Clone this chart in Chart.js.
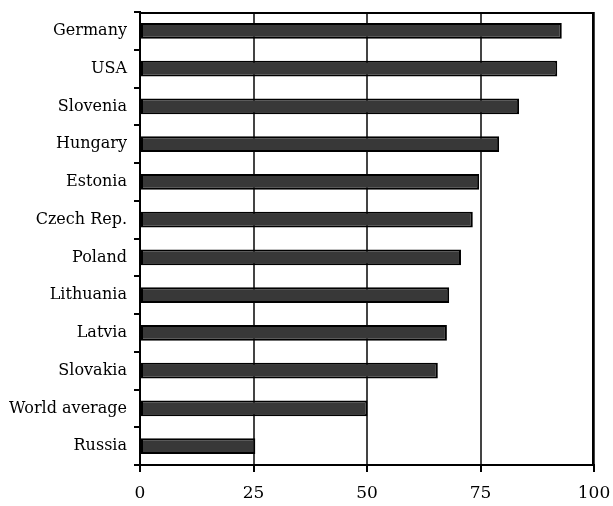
<!DOCTYPE html>
<html>
<head>
<meta charset="utf-8">
<script src="https://cdn.jsdelivr.net/npm/chart.js@4"></script>
<style>
  html, body { margin: 0; padding: 0; background: #fff; }
  #wrap { width: 613px; height: 506px; }
</style>
</head>
<body>
<div id="wrap"><canvas id="myChart"></canvas></div>
<script>
var countries = ['Germany', 'USA', 'Slovenia', 'Hungary', 'Estonia', 'Czech Rep.', 'Poland', 'Lithuania', 'Latvia', 'Slovakia', 'World average', 'Russia']
var values = [92.9, 91.9, 83.5, 79.1, 74.7, 73.3, 70.7, 68.1, 67.6, 65.6, 50.1, 25.4]
var xTicks = [0, 25, 50, 75, 100]

// top and right sides of the plot box
const frame = {
    id: 'plotFrame',
    afterDraw(chart) {
        const x = chart.scales.x
        const y = chart.scales.y
        const c = chart.ctx
        c.save()
        c.strokeStyle = '#000'
        c.lineWidth = 2
        c.beginPath()
        c.moveTo(x.left, y.top + 1)
        c.lineTo(x.right - 1, y.top + 1)
        c.lineTo(x.right - 1, y.bottom)
        c.stroke()
        c.restore()
    }
}

const ctx = document.getElementById('myChart')
new Chart(ctx, {
    type: 'bar',
    data: {
        labels: countries,
        datasets: [{
            data: values,
            backgroundColor: '#383838',
            borderColor: '#000',
            borderWidth: 2,
            borderSkipped: false,
            barPercentage: 0.8,
            categoryPercentage: 0.52
        }]
    },
    options: {
        indexAxis: 'y',
        responsive: true,
        maintainAspectRatio: false,
        animation: false,
        layout: { padding: 0 },
        plugins: {
            legend: { display: false },
            tooltip: { enabled: false }
        },
        scales: {
            x: {
                min: 0,
                max: 100,
                afterBuildTicks: function (axis) {
                    axis.ticks = xTicks.map(function (v) { return { value: v } })
                },
                afterFit: function (axis) {
                    axis.height = 41
                    axis.paddingLeft = 0
                    axis.paddingRight = 19
                },
                grid: {
                    color: function (c) { return (c.tick && c.tick.value === 0) ? 'rgba(0,0,0,0)' : '#444' },
                    lineWidth: 2,
                    tickColor: '#000',
                    tickLength: 7
                },
                border: { color: '#000', width: 2 },
                ticks: {
                    color: '#000',
                    font: { family: 'DejaVu Serif', size: 17 },
                    padding: 11,
                    maxRotation: 0
                }
            },
            y: {
                afterFit: function (axis) {
                    axis.width = 140
                    axis.paddingTop = 12
                    axis.paddingBottom = 0
                },
                grid: {
                    drawOnChartArea: false,
                    tickColor: '#000',
                    tickLength: 6,
                    lineWidth: 2
                },
                border: { color: '#000', width: 2 },
                ticks: {
                    color: '#000',
                    font: { family: 'DejaVu Serif', size: 16 },
                    padding: 7
                }
            }
        }
    },
    plugins: [frame]
})
</script>
</body>
</html>
